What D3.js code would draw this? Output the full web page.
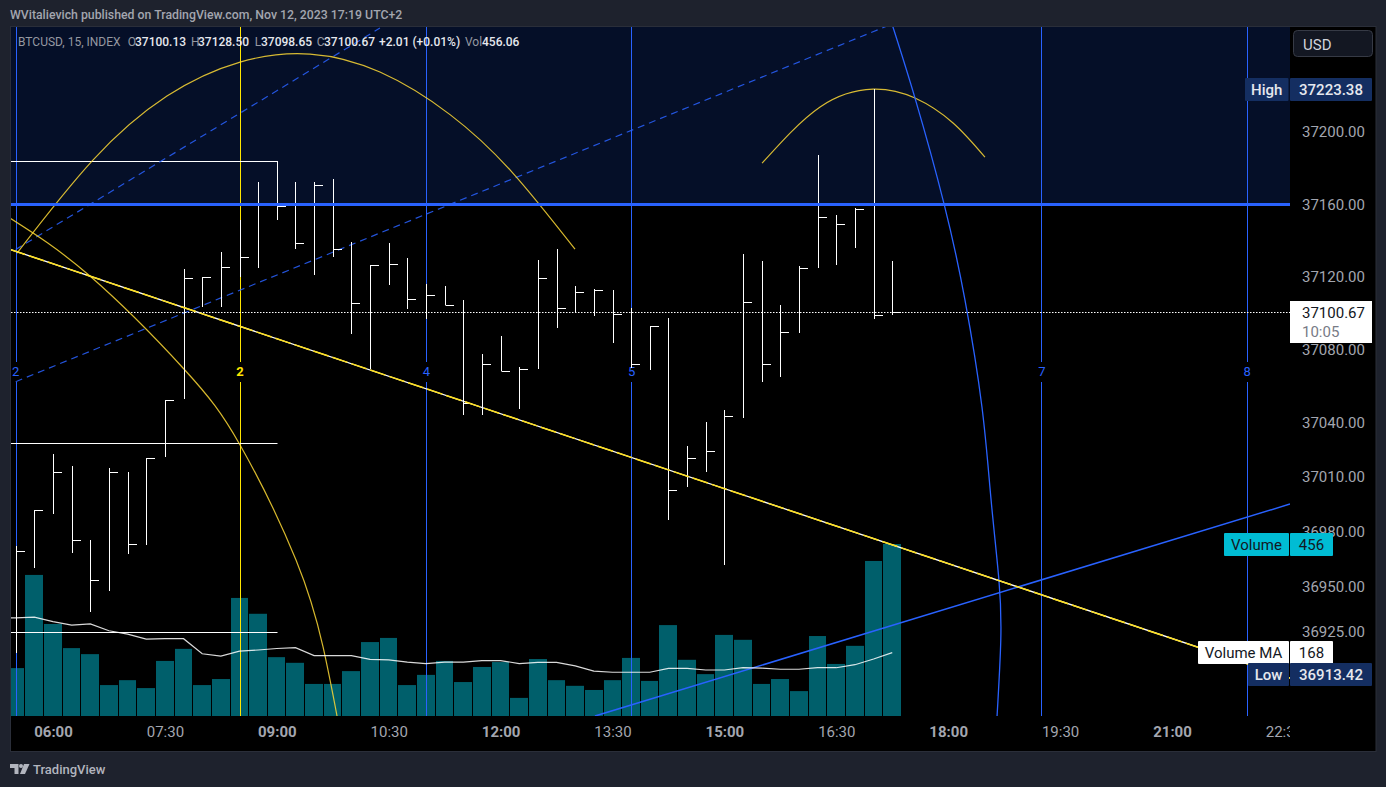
<!DOCTYPE html>
<html>
<head>
<meta charset="utf-8">
<title>BTCUSD, 15</title>
<script src="https://cdn.jsdelivr.net/npm/d3@7"></script>
<style>
  html, body { margin: 0; padding: 0; background: #1e222d; overflow: hidden; }
  svg { display: block; }
  text { font-family: Roboto, "Noto Sans", sans-serif; }
</style>
</head>
<body>
<svg id="chart" width="1386" height="787"></svg>
<script>
// Bars start at index -2 (05:30), index 0 is 06:00, one bar = 15 min
const firstBar = -2;
const highs = [36972.1, 36991.9, 37022.7, 37016.1, 36975.4, 37015.0, 37012.8, 37020.5, 37052.4, 37124.5, 37120.1, 37133.8,
  37151.4, 37172.3, 37184.1, 37172.3, 37172.3, 37174.0, 37139.3, 37126.7, 37138.8, 37130.5, 37116.2, 37115.1,
  37107.4, 37077.7, 37087.6, 37070.6, 37129.4, 37135.4, 37115.1, 37113.4, 37112.9, 37103.0, 37093.1, 37097.5,
  37027.1, 37040.3, 37046.9, 37132.7, 37128.9, 37104.7, 37126.1, 37187.2, 37154.2, 37158.0, 37223.4, 37128.9];
const lows = [36913.4, 36960.0, 36989.7, 36968.2, 36935.8, 36947.4, 36967.7, 36972.6, 37021.1, 37052.9, 37103.6, 37103.6,
  37120.1, 37125.0, 37151.4, 37135.4, 37121.2, 37131.0, 37088.7, 37069.5, 37115.7, 37102.5, 37097.0, 37104.7,
  37044.2, 37044.2, 37068.4, 37047.4, 37069.5, 37092.0, 37100.8, 37098.6, 37083.7, 37070.0, 37068.9, 36986.4,
  37004.6, 37012.8, 36961.7, 37042.5, 37062.3, 37065.1, 37089.3, 37125.0, 37126.7, 37136.0, 37097.0, 37099.2];
const closes = [36969.3, 36991.9, 37012.8, 36975.4, 36953.4, 37012.8, 36973.2, 37020.5, 37052.4, 37119.5, 37120.1, 37125.6,
  37131.0, 37159.6, 37159.1, 37138.8, 37170.7, 37135.4, 37105.8, 37126.7, 37127.2, 37108.0, 37110.2, 37104.7,
  37050.7, 37072.2, 37068.4, 37069.5, 37119.5, 37103.0, 37111.8, 37112.9, 37099.7, 37072.2, 37093.1, 37002.9,
  37020.5, 37024.4, 37043.6, 37106.3, 37072.2, 37089.8, 37125.0, 37153.1, 37149.2, 37157.4, 37099.2, 37100.7];
const volumes = [127, 374, 244, 180, 164, 82, 95, 74, 146, 178, 82, 98,
  313, 271, 156, 141, 85, 85, 119, 196, 207, 82, 109, 146,
  90, 130, 143, 48, 151, 95, 80, 69, 95, 154, 93, 241,
  149, 111, 215, 202, 85, 98, 66, 212, 138, 186, 411, 456];
// Volume MA starts one bar earlier, off the left edge
const volumeMa = [260, 260, 262, 250, 241, 244, 226, 217, 204, 205, 205, 165, 159,
  172, 175, 179, 181, 160, 160, 160, 150, 149, 143, 139, 143,
  143, 147, 147, 139, 142, 142, 133, 119, 116, 116, 116, 126,
  126, 122, 122, 128, 127, 124, 124, 128, 128, 136, 151, 168];

const priceTicks = [37200, 37160, 37120, 37080, 37040, 37010, 36980, 36950, 36925];
const timeTicks = [0, 6, 12, 18, 24, 30, 36, 42, 48, 54, 60, 66];
const timeLabels = ["06:00", "07:30", "09:00", "10:30", "12:00", "13:30", "15:00", "16:30", "18:00", "19:30", "21:00", "22:30"];
const boldTimes = ["06:00", "09:00", "12:00", "15:00", "18:00", "21:00"];

// Drawings, as [bar index, price]
const levelPrice = 37160;
const lastPrice = 37100.67;
const cycleBars = [-2, 10, 20, 31, 53, 64];
const cycleLabels = ["2", "2", "4", "5", "7", "8"];
const cycleColors = ["#2962ff", "#ffe600", "#2962ff", "#2962ff", "#2962ff", "#2962ff"];
const fibPrices = [37184.1, 37028.7, 36924.8];
const fibEnd = 12;
const yellowTrend = [[-2.31, 37135.3], [66.33, 36899.5]];
const blueTrend = [[29.06, 36878.6], [66.33, 36995.2]];
const dashedUpper = [[-2, 37135.2], [17.53, 37257.0]];
const dashedLower = [[-2, 37062.5], [44.88, 37258.8]];
const bigArc = [[-1.93, 37133.2], [2.14, 37184.4], [6.11, 37219.6], [10.03, 37238.3], [13.78, 37242.7],
  [17.53, 37232.8], [21.29, 37209.4], [24.61, 37177.8], [27.99, 37135.4]];
const fallingArc = [[-2.31, 37152.5], [1.98, 37120.6], [7.02, 37069.5], [10.03, 37027.7], [13.03, 36964.4], [14.48, 36916.6], [15.23, 36878.6]];
const smallArc = [[38.02, 37182.7], [41.13, 37213.6], [43.97, 37223.4], [46.22, 37218.5], [48.26, 37204.8], [49.97, 37186.0]];
const blueArc = [[44.83, 37264.2], [46.22, 37218.5], [47.78, 37160.2], [48.9, 37107.4], [49.81, 37048.6],
  [50.3, 36997.4], [50.72, 36953.4], [50.82, 36920.4], [50.62, 36878.6]];

// Layout ---------------
const plot = { left: 11, right: 1290, top: 27, bottom: 716 };
const BLUE = "#2962ff";
const YELLOW = "#fdd835";
const GREY = "#a3a6af";
const LEGEND_GREY = "#9598a1";
const NAVY = "#142e61";

const x = d3.scaleLinear().domain([0, 6]).range([53, 164.9]);
const y = d3.scaleLinear().domain([37200, 36925]).range([131.7, 631.7]);
const yVol = d3.scaleLinear().domain([0, 456]).range([plot.bottom, 544]);
const crisp = (v) => Math.round(v) + 0.5;

const svg = d3.select("#chart");

svg.append("rect").attr("x", 10.5).attr("y", 26.5).attr("width", 1365.5).attr("height", 725)
  .attr("fill", "#000").attr("stroke", "#2a2e39");

svg.append("defs").append("clipPath").attr("id", "plot-clip").append("rect")
  .attr("x", plot.left).attr("y", plot.top)
  .attr("width", plot.right - plot.left).attr("height", plot.bottom - plot.top);

const g = svg.append("g").attr("clip-path", "url(#plot-clip)");

// Shaded zone above the level
g.append("rect").attr("x", plot.left).attr("y", plot.top)
  .attr("width", plot.right - plot.left).attr("height", y(levelPrice) - plot.top)
  .attr("fill", "#050f28");

// Volume
const barIndex = (i) => firstBar + i;
g.append("g").selectAll("rect").data(volumes).join("rect")
  .attr("x", (d, i) => Math.round(x(barIndex(i)) - 9))
  .attr("width", (d, i) => Math.round(x(barIndex(i)) + 8.65) - Math.round(x(barIndex(i)) - 9))
  .attr("y", (d) => yVol(d))
  .attr("height", (d) => yVol(0) - yVol(d))
  .attr("fill", "#005f6b");

// Cycle lines, broken around their number
const cycles = g.append("g").selectAll("g").data(cycleBars).join("g");
cycles.append("line")
  .attr("x1", (d) => crisp(x(d))).attr("x2", (d) => crisp(x(d)))
  .attr("y1", plot.top).attr("y2", 362)
  .attr("stroke", (d, i) => cycleColors[i]);
cycles.append("line")
  .attr("x1", (d) => crisp(x(d))).attr("x2", (d) => crisp(x(d)))
  .attr("y1", 382).attr("y2", plot.bottom)
  .attr("stroke", (d, i) => cycleColors[i]);
cycles.append("text")
  .attr("x", (d) => x(d) + (d < 0 ? 0 : 0.5)).attr("y", 376)
  .attr("text-anchor", "middle")
  .attr("font-size", 13)
  .attr("font-weight", (d, i) => (cycleColors[i] === BLUE ? 400 : 700))
  .attr("fill", (d, i) => cycleColors[i])
  .text((d, i) => cycleLabels[i]);

// Drawings
const line = d3.line().x((d) => x(d[0])).y((d) => y(d[1]));
const arc = d3.line().x((d) => x(d[0])).y((d) => y(d[1])).curve(d3.curveNatural);

g.append("g").selectAll("line").data(fibPrices).join("line")
  .attr("x1", plot.left).attr("x2", crisp(x(fibEnd)))
  .attr("y1", (d) => crisp(y(d))).attr("y2", (d) => crisp(y(d)))
  .attr("stroke", "#fff");

g.append("path").attr("d", line(dashedUpper)).attr("fill", "none")
  .attr("stroke", BLUE).attr("stroke-opacity", 0.85).attr("stroke-width", 1.2).attr("stroke-dasharray", "7 5");
g.append("path").attr("d", line(dashedLower)).attr("fill", "none")
  .attr("stroke", BLUE).attr("stroke-opacity", 0.85).attr("stroke-width", 1.2).attr("stroke-dasharray", "7 5");

[bigArc, fallingArc, smallArc].forEach((pts) => {
  g.append("path").attr("d", arc(pts)).attr("fill", "none")
    .attr("stroke", YELLOW).attr("stroke-opacity", 0.85).attr("stroke-width", 1.2);
});
g.append("path").attr("d", arc(blueArc)).attr("fill", "none")
  .attr("stroke", BLUE).attr("stroke-width", 1.3);

g.append("path").attr("d", line(blueTrend)).attr("fill", "none")
  .attr("stroke", BLUE).attr("stroke-width", 1.5);

// Last price line
g.append("line").attr("x1", plot.left).attr("x2", plot.right)
  .attr("y1", crisp(y(lastPrice))).attr("y2", crisp(y(lastPrice)))
  .attr("stroke", "#fff").attr("stroke-dasharray", "1.5 1.5");

// Volume MA
const maLine = d3.line().x((d, i) => x(firstBar - 1 + i)).y((d) => yVol(d));
g.append("path").attr("d", maLine(volumeMa)).attr("fill", "none")
  .attr("stroke", "#fff").attr("stroke-opacity", 0.85).attr("stroke-width", 1.2);

// Bars: high-low stem and close tick
const bars = g.append("g").selectAll("g").data(highs).join("g").attr("stroke", "#fff");
bars.append("line")
  .attr("x1", (d, i) => crisp(x(barIndex(i)))).attr("x2", (d, i) => crisp(x(barIndex(i))))
  .attr("y1", (d) => Math.round(y(d))).attr("y2", (d, i) => Math.round(y(lows[i])));
bars.append("line")
  .attr("x1", (d, i) => crisp(x(barIndex(i)))).attr("x2", (d, i) => crisp(x(barIndex(i))) + 8.5)
  .attr("y1", (d, i) => crisp(y(closes[i]))).attr("y2", (d, i) => crisp(y(closes[i])));

// Trend on top of the bars
g.append("path").attr("d", line(yellowTrend)).attr("fill", "none")
  .attr("stroke", "#fff").attr("stroke-width", 1.3);
g.append("path").attr("d", line(yellowTrend)).attr("fill", "none")
  .attr("stroke", "#ffe01b").attr("stroke-width", 1.5).attr("stroke-dasharray", "16 4");

// Level
g.append("line").attr("x1", plot.left).attr("x2", plot.right)
  .attr("y1", y(levelPrice)).attr("y2", y(levelPrice))
  .attr("stroke", BLUE).attr("stroke-width", 3);

// Axes
const priceAxis = svg.append("g").attr("transform", `translate(${plot.right},0)`)
  .call(d3.axisRight(y).tickValues(priceTicks).tickSize(0).tickPadding(12).tickFormat(d3.format(".2f")));
priceAxis.select(".domain").remove();
priceAxis.selectAll("text").attr("font-size", 15).attr("fill", GREY).attr("font-family", null);

const timeAxis = svg.append("g").attr("transform", `translate(0,${plot.bottom})`)
  .attr("clip-path", "url(#time-clip)")
  .call(d3.axisBottom(x).tickValues(timeTicks).tickSize(0).tickPadding(10)
    .tickFormat((d, i) => timeLabels[i]));
timeAxis.select(".domain").remove();
timeAxis.selectAll("text").attr("font-size", 15).attr("fill", GREY).attr("font-family", null)
  .attr("font-weight", (d, i) => (boldTimes.includes(timeLabels[i]) ? 700 : 400));
svg.select("defs").append("clipPath").attr("id", "time-clip").append("rect")
  .attr("x", 0).attr("y", 0).attr("width", plot.right).attr("height", 40);

// Price labels
const tag = (left, width, top, height, fill, label, color, weight) => {
  svg.append("rect").attr("x", left).attr("y", top).attr("width", width).attr("height", height)
    .attr("rx", 1).attr("fill", fill);
  svg.append("text").attr("x", left + width / 2).attr("y", top + height / 2 + 5)
    .attr("text-anchor", "middle").attr("font-size", 15).attr("font-weight", weight || 400)
    .attr("fill", color).text(label);
};
tag(1245, 43.5, 78, 23, NAVY, "High", "#e6e8ee", 500);
tag(1290, 82, 78, 23, NAVY, "37223.38", "#e6e8ee", 500);
tag(1224, 65, 533, 23, "#00bcd4", "Volume", "#131722");
tag(1290, 43, 533, 23, "#00bcd4", "456", "#131722");
tag(1198, 91, 641, 23, "#fff", "Volume MA", "#131722");
tag(1290, 43, 641, 23, "#fff", "168", "#131722");
tag(1248, 41, 663, 23, NAVY, "Low", "#e6e8ee", 500);
tag(1290, 82, 663, 23, NAVY, "36913.42", "#e6e8ee", 500);

svg.append("rect").attr("x", 1290).attr("y", 301).attr("width", 82).attr("height", 42).attr("fill", "#fff");
svg.append("text").attr("x", 1302).attr("y", 318)
  .attr("font-size", 15).attr("fill", "#131722").text("37100.67");
svg.append("text").attr("x", 1302).attr("y", 337)
  .attr("font-size", 15).attr("fill", "#787b86").text("10:05");

// Currency button
svg.append("rect").attr("x", 1293.5).attr("y", 30.5).attr("width", 79).attr("height", 26)
  .attr("rx", 4).attr("fill", "#131722").attr("stroke", "#363a45");
svg.append("text").attr("x", 1303).attr("y", 49.500).attr("font-size", 15).attr("fill", "#d1d4dc").text("USD");

// Header and legend
svg.append("text").attr("x", 10).attr("y", 19).attr("font-size", 12.300).attr("font-weight", 500)
  .attr("fill", GREY).text("WVitalievich published on TradingView.com, Nov 12, 2023 17:19 UTC+2");

const legend = [
  [18, "BTCUSD, 15, INDEX", LEGEND_GREY, 400],
  [127.7, "O", LEGEND_GREY, 400], [135, "37100.13", "#e6e8ee", 500],
  [191, "H", LEGEND_GREY, 400], [198, "37128.50", "#e6e8ee", 500],
  [254.7, "L", LEGEND_GREY, 400], [261, "37098.65", "#e6e8ee", 500],
  [316.7, "C", LEGEND_GREY, 400], [324, "37100.67", "#e6e8ee", 500],
  [379, "+2.01 (+0.01%)", "#e6e8ee", 500],
  [465, "Vol", LEGEND_GREY, 400], [482, "456.06", "#e6e8ee", 500]
];
svg.append("g").selectAll("text").data(legend).join("text")
  .attr("x", (d) => d[0]).attr("y", 45.500).attr("font-size", 12)
  .attr("fill", (d) => d[2]).attr("font-weight", (d) => d[3]).text((d) => d[1]);

// Footer logo
const logo = svg.append("g").attr("fill", "#b2b5be");
logo.append("path").attr("d", "M10 764h8.5v10h-4v-6h-4.500z");
logo.append("circle").attr("cx", 21).attr("cy", 766).attr("r", 2);
logo.append("path").attr("d", "M24 764h5.500l-4.500 10h-5z");
svg.append("text").attr("x", 33).attr("y", 774).attr("font-size", 13).attr("font-weight", 500)
  .attr("fill", "#b2b5be").text("TradingView");
</script>
</body>
</html>
